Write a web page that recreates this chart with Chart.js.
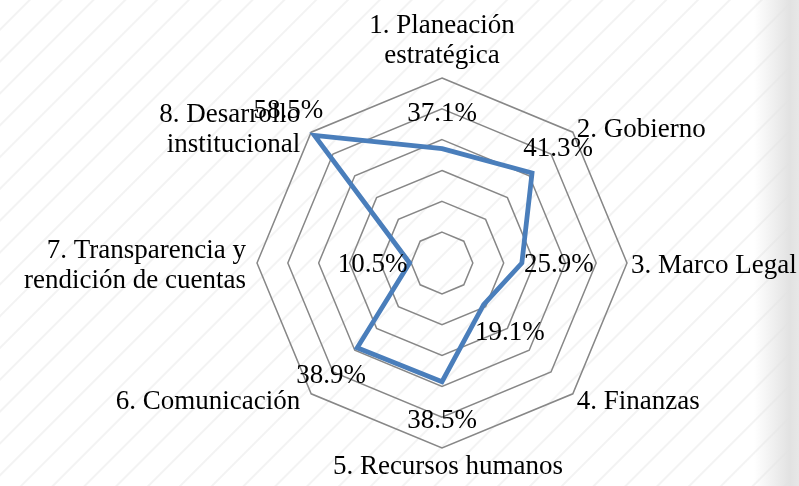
<!DOCTYPE html>
<html>
<head>
<meta charset="utf-8">
<script src="https://cdn.jsdelivr.net/npm/chart.js@4/dist/chart.umd.min.js"></script>
<style>
html,body{margin:0;padding:0;}
body{width:799px;height:486px;overflow:hidden;position:relative;
 background:
  linear-gradient(to right, rgba(255,255,255,0) 0px, rgba(255,255,255,0) 754px, rgba(226,226,226,1) 790px, rgba(231,231,231,1) 799px),
  repeating-linear-gradient(135deg, #ffffff 0px, #ffffff 19.5px, #f3f3f3 20.5px, #f3f3f3 21.5px, #ffffff 22.5px);
}
#wrap{position:absolute;left:0;top:0;width:799px;height:486px;}
</style>
</head>
<body>
<div id="wrap"><canvas id="c" width="799" height="486"></canvas></div>
<script>
const categories = [
  ["1. Planeación", "estratégica"],
  "2. Gobierno",
  "3. Marco Legal",
  "4. Finanzas",
  "5. Recursos humanos",
  "6. Comunicación",
  ["7. Transparencia y", "rendición de cuentas"],
  ["8. Desarrollo", "institucional"]
];
const values = [37.1, 41.3, 25.9, 19.1, 38.5, 38.9, 10.5, 58.5];
const valueLabels = ["37.1%", "41.3%", "25.9%", "19.1%", "38.5%", "38.9%", "10.5%", "58.5%"];
const scaleMax = 60;
const scaleStep = 10;

const FONT = "'Liberation Serif', 'Times New Roman', serif";

// category labels drawn around the outer ring of the radial scale
const categoryLabelPlugin = {
  id: 'categoryLabels',
  afterDraw(chart) {
    const s = chart.scales.r;
    const ctx = chart.ctx;
    const LH = 30;
    ctx.save();
    ctx.font = "27px " + FONT;
    ctx.fillStyle = "#000";
    ctx.textBaseline = "alphabetic";
    categories.forEach((lab, i) => {
      const lines = Array.isArray(lab) ? lab : [lab];
      const v = s.getPointPosition(i, s.drawingArea);
      const th = s.getIndexAngle(i);
      const deg = Math.round(th * 180 / Math.PI) % 360;
      let x, align, firstBase;
      if (deg === 0) {
        align = 'center'; x = v.x;
        firstBase = v.y - 15 - (lines.length - 1) * LH;
      } else if (deg === 180) {
        align = 'center'; x = v.x + 6;
        firstBase = v.y + 26;
      } else {
        align = deg < 180 ? 'left' : 'right';
        x = v.x + (deg < 180 ? 4 : -11);
        const mid = v.y + 1 - 8 * Math.cos(th);
        firstBase = mid - (lines.length - 1) * LH / 2 + 9;
      }
      ctx.textAlign = align;
      lines.forEach((t, k) => ctx.fillText(t, x, firstBase + k * LH));
    });
    ctx.restore();
  }
};

// value labels placed just outside each data point
const valueLabelPlugin = {
  id: 'valueLabels',
  afterDatasetsDraw(chart) {
    const scale = chart.scales.r;
    const ctx = chart.ctx;
    ctx.save();
    ctx.font = "27px " + FONT;
    ctx.fillStyle = "#000";
    ctx.textAlign = "center";
    ctx.textBaseline = "middle";
    values.forEach((v, i) => {
      const p = scale.getPointPositionForValue(i, v);
      const a = scale.getIndexAngle(i) - Math.PI / 2;
      const off = 37;
      ctx.fillText(valueLabels[i], p.x + Math.cos(a) * off, p.y + Math.sin(a) * off + 2);
    });
    ctx.restore();
  }
};

new Chart(document.getElementById('c'), {
  type: 'radar',
  data: {
    labels: categories,
    datasets: [{
      data: values,
      borderColor: '#4a7ebb',
      borderWidth: 4.8,
      borderJoinStyle: 'miter',
      backgroundColor: 'rgba(0,0,0,0)',
      fill: false,
      pointRadius: 0,
      pointHoverRadius: 0,
      tension: 0
    }]
  },
  options: {
    responsive: false,
    animation: false,
    devicePixelRatio: 1,
    layout: { padding: { left: 257, right: 172, top: 78, bottom: 38 } },
    plugins: { legend: { display: false }, tooltip: { enabled: false } },
    scales: {
      r: {
        min: 0,
        max: scaleMax,
        ticks: { stepSize: scaleStep, display: false },
        angleLines: { display: false },
        grid: { color: '#878787', lineWidth: 1.5 },
        pointLabels: { display: false }
      }
    }
  },
  plugins: [categoryLabelPlugin, valueLabelPlugin]
});
</script>
</body>
</html>
